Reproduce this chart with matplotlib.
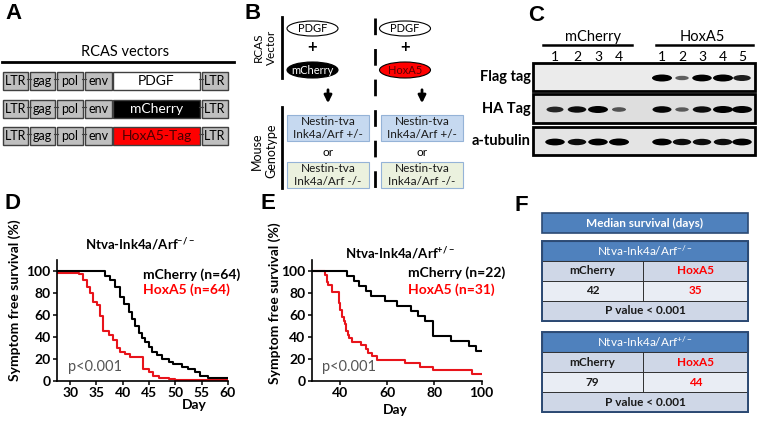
import matplotlib
matplotlib.use('Agg')
import matplotlib.pyplot as plt
from matplotlib.patches import Rectangle, Ellipse, FancyArrowPatch

plt.rcParams['font.family'] = ['Lato', 'DejaVu Sans']
plt.rcParams['mathtext.default'] = 'regular'

# =============================================================================
# DATA
# =============================================================================

# Panel A: RCAS vectors
backbone = ['LTR', 'gag', 'pol', 'env']
inserts = ['PDGF', 'mCherry', 'HoxA5-Tag']
insert_fill = ['white', 'black', '#ff0000']
insert_txt = ['black', 'white', '#4a0000']

# Panel B
vectors = ['mCherry', 'HoxA5']
vector_fill = ['black', '#ff0000']
vector_txt = ['white', '#5a0000']
genotypes = ['Nestin-tva\nInk4a/Arf +/-', 'Nestin-tva\nInk4a/Arf -/-']
genotype_fill = ['#c6d9f0', '#ebf1de']

# Panel C: western blot, band intensity per lane (0..1)
blot_rows = ['Flag tag', 'HA Tag', 'a-tubulin']
mcherry_lanes = ['1', '2', '3', '4']
hoxa5_lanes = ['1', '2', '3', '4', '5']
flag_band = [0, 0, 0, 0, 1.0, 0.35, 0.95, 1.0, 0.75]
ha_band = [0.7, 0.85, 1.0, 0.4, 0.9, 0.35, 0.85, 1.0, 1.0]
tub_band = [0.95, 0.85, 0.95, 1.0, 0.95, 0.85, 0.85, 0.85, 0.95]

# Panel D: Ntva-Ink4a/Arf -/-
d_days_m = [27.5, 36.6, 37.6, 38.5, 39.5, 40.2, 41.1, 41.7, 42.3, 43.0, 43.6, 44.2,
            44.9, 45.5, 46.5, 47.4, 48.7, 49.6, 51.2, 52.4, 53.7, 54.7, 56.2, 60]
d_surv_m = [100, 95.3, 92.2, 85.9, 76.6, 70.3, 62.5, 56.3, 50.0, 43.8, 39.1, 35.9,
            31.3, 26.6, 23.4, 20.3, 17.2, 15.6, 12.5, 10.9, 7.8, 4.7, 3.1, 3.1]
d_days_h = [27.5, 31.6, 32.5, 33.2, 33.8, 34.4, 35.1, 35.7, 36.3, 37.3, 38.2, 38.9,
            39.5, 40.4, 41.4, 43.9, 44.9, 45.8, 46.8, 48.7, 49.9, 60]
d_surv_h = [98.4, 96.9, 92.2, 85.9, 79.7, 71.9, 68.8, 59.4, 45.3, 42.2, 37.5, 29.7,
            26.6, 25.0, 21.9, 10.9, 7.8, 4.7, 3.1, 1.6, 0.8, 0.8]

# Panel E: Ntva-Ink4a/Arf +/-
e_days_m = [28, 43, 46, 48, 51, 53, 59, 64, 70, 73, 76, 79.5, 87, 94.5, 97.5, 100]
e_surv_m = [100, 95.5, 90.9, 86.4, 81.8, 77.3, 72.7, 68.2, 63.6, 59.1, 54.5, 40.9,
            36.4, 31.8, 27.3, 27.3]
e_days_h = [28, 33.5, 34.5, 35, 36.5, 39.5, 40, 40.7, 41.5, 42, 42.7, 43.5, 44, 45,
            49, 51, 52, 53.5, 55.5, 67.5, 74, 79.5, 96, 100]
e_surv_h = [100, 96.8, 90.3, 87.1, 80.6, 71.0, 64.5, 58.1, 54.8, 51.6, 45.2, 41.9,
            38.7, 35.5, 32.3, 29.0, 25.8, 22.6, 19.4, 16.1, 12.9, 9.7, 6.5, 6.5]

# Panel F: median survival table
geno_labels = ['Ntva-Ink4a/Arf$^{-/-}$', 'Ntva-Ink4a/Arf$^{+/-}$']
median_mcherry = [42, 79]
median_hoxa5 = [35, 44]
p_values = ['P value < 0.001', 'P value < 0.001']

# =============================================================================
# FIGURE
# =============================================================================

W, H = 766, 422
fig = plt.figure(figsize=(W / 100, H / 100), dpi=100)
ov = fig.add_axes([0, 0, 1, 1])
ov.set_xlim(0, W)
ov.set_ylim(H, 0)
ov.axis('off')

def letter(x, y, s):
    ov.text(x, y, s, fontsize=16, fontweight='bold', family='Liberation Sans',
            ha='left', va='top')

# ---- A ----------------------------------------------------------------------
letter(5, 3, 'A')
ov.text(125, 52, 'RCAS vectors', fontsize=10.5, ha='center', va='center')
ov.plot([2, 234], [62, 62], color='black', lw=2)
bb_x = [(3, 28), (30, 55), (57, 83), (85, 112)]
ins_x = (113, 200)
ltr2_x = (202, 228)
row_y = [72, 100, 127]
bh = 18
for r, ins in enumerate(inserts):
    y0 = row_y[r]
    for (x0, x1), name in zip(bb_x, backbone):
        ov.add_patch(Rectangle((x0, y0), x1 - x0, bh, fc='#bfbfbf', ec='#404040', lw=1))
        ov.text((x0 + x1) / 2, y0 + bh / 2, name, fontsize=9, ha='center', va='center')
    ov.add_patch(Rectangle((ins_x[0], y0), ins_x[1] - ins_x[0], bh, fc=insert_fill[r],
                           ec='#404040', lw=1))
    ov.text(sum(ins_x) / 2, y0 + bh / 2, ins, fontsize=10, ha='center', va='center',
            color=insert_txt[r])
    ov.add_patch(Rectangle((ltr2_x[0], y0), ltr2_x[1] - ltr2_x[0], bh, fc='#bfbfbf',
                           ec='#404040', lw=1))
    ov.text(sum(ltr2_x) / 2, y0 + bh / 2, 'LTR', fontsize=9, ha='center', va='center')
    for gx in [29, 56, 84, 201]:
        ov.plot([gx - 2, gx + 2], [y0 + bh / 2 - 2] * 2, color='#404040', lw=0.8)

# ---- B ----------------------------------------------------------------------
letter(244, 3, 'B')
ov.plot([281.5, 281.5], [17, 78], color='black', lw=2)
ov.plot([281.5, 281.5], [107, 188], color='black', lw=2)
ov.text(258, 47, 'RCAS', rotation=90, fontsize=8.5, ha='center', va='center')
ov.text(271, 47, 'Vector', rotation=90, fontsize=8.5, ha='center', va='center')
ov.text(257, 151, 'Mouse', rotation=90, fontsize=9, ha='center', va='center')
ov.text(271, 151, 'Genotype', rotation=90, fontsize=9, ha='center', va='center')
ov.plot([375, 375], [18, 190], color='black', lw=2, dashes=(6, 5))
ell_cx = [312.5, 405]
box_x = [287, 381]
for i, v in enumerate(vectors):
    cx = ell_cx[i]
    ov.add_patch(Ellipse((cx, 28.5), 51, 15, fc='white', ec='black', lw=0.8))
    ov.text(cx, 28.5, 'PDGF', fontsize=8, ha='center', va='center')
    ov.text(cx, 47, '+', fontsize=12, fontweight='bold', ha='center', va='center')
    ov.add_patch(Ellipse((cx, 70), 51, 16, fc=vector_fill[i], ec='black', lw=0.8))
    ov.text(cx, 70, v, fontsize=8, ha='center', va='center', color=vector_txt[i])
    bx = box_x[i]
    ov.add_patch(FancyArrowPatch((bx + 41, 87), (bx + 41, 106), arrowstyle='-|>',
                                 mutation_scale=11, color='black', lw=2))
    by = [115, 162]
    for j, g in enumerate(genotypes):
        ov.add_patch(Rectangle((bx, by[j]), 82, 26, fc=genotype_fill[j], ec='#95b3d7',
                               lw=0.8))
        ov.text(bx + 41, by[j] + 13, g, fontsize=8.5, ha='center', va='center',
                linespacing=1.25, color='#1a1a1a')
    ov.text(bx + 41, 152.5, 'or', fontsize=8.5, ha='center', va='center')

# ---- C ----------------------------------------------------------------------
letter(528, 5, 'C')
lane_x = [555, 577, 598, 619, 662, 682, 702, 723, 742]
ov.text(593, 37, 'mCherry', fontsize=10.5, ha='center', va='center')
ov.plot([543, 632], [45, 45], color='black', lw=1.8)
ov.text(702, 37, 'HoxA5', fontsize=10.5, ha='center', va='center')
ov.plot([656, 753], [45, 45], color='black', lw=1.8)
for x, s in zip(lane_x, mcherry_lanes + hoxa5_lanes):
    ov.text(x, 57, s, fontsize=10, ha='center', va='center')
blot_y = [(63, 91), (94, 123), (127, 155)]
blot_bg = ['#ebebeb', '#dedede', '#e4e4e4']
bands = [flag_band, ha_band, tub_band]
for (y0, y1), name, inten, bg in zip(blot_y, blot_rows, bands, blot_bg):
    ov.add_patch(Rectangle((533, y0), 222, y1 - y0, fc=bg, ec='black', lw=2))
    ov.text(531, (y0 + y1) / 2, name, fontsize=10.5, fontweight='bold', ha='right',
            va='center')
    yc = (y0 + y1) / 2 + 1
    for x, a in zip(lane_x, inten):
        if a <= 0:
            continue
        ov.add_patch(Ellipse((x, yc), 10 + 10 * a, 3 + 4 * a, fc='black', ec='none',
                             alpha=min(1, 0.35 + 0.7 * a)))

# ---- D and E ----------------------------------------------------------------
def km_axes(rect, dm, sm, dh, sh, xlim, xticks):
    ax = fig.add_axes(rect)
    ax.step(dm, sm, where='post', color='black', lw=1.5, zorder=3)
    ax.step(dh, sh, where='post', color='#e8141b', lw=1.5, zorder=2)
    ax.set_xlim(*xlim)
    ax.set_ylim(0, 110)
    ax.set_xticks(xticks)
    ax.set_yticks(range(0, 101, 20))
    for sp in ['top', 'right']:
        ax.spines[sp].set_visible(False)
    for sp in ['left', 'bottom']:
        ax.spines[sp].set_linewidth(1.2)
    ax.tick_params(labelsize=10, width=1.1, length=3, pad=1.5)
    for lab in ax.get_xticklabels() + ax.get_yticklabels():
        lab.set_fontweight('bold')
    ax.patch.set_alpha(0)
    return ax

axd = km_axes([57 / W, 1 - 381 / H, 171 / W, 121 / H], d_days_m, d_surv_m,
              d_days_h, d_surv_h, (27.5, 60), range(30, 61, 5))
axe = km_axes([311.7 / W, 1 - 381 / H, 170 / W, 121 / H], e_days_m, e_surv_m,
              e_days_h, e_surv_h, (28, 100), [40, 60, 80, 100])

letter(4, 193, 'D')
ov.text(140, 244, 'Ntva-Ink4a/Arf$^{-/-}$', fontsize=9.5, fontweight='bold',
        ha='center', va='center')
ov.text(143, 275, 'mCherry (n=64)', fontsize=10, fontweight='bold', ha='left',
        va='center')
ov.text(143, 290, 'HoxA5 (n=64)', fontsize=10, fontweight='bold', ha='left',
        va='center', color='#ff0000')
ov.text(68, 367, 'p<0.001', fontsize=10.5, ha='left', va='center', color='#555555')
ov.text(15, 300, 'Symptom free survival (%)', fontsize=10, fontweight='bold',
        rotation=90, ha='center', va='center')
ov.text(194, 405, 'Day', fontsize=10, fontweight='bold', ha='center', va='center')

letter(260, 193, 'E')
ov.text(400, 253, 'Ntva-Ink4a/Arf$^{+/-}$', fontsize=9.5, fontweight='bold',
        ha='center', va='center')
ov.text(408, 273, 'mCherry (n=22)', fontsize=10, fontweight='bold', ha='left',
        va='center')
ov.text(408, 290, 'HoxA5 (n=31)', fontsize=10, fontweight='bold', ha='left',
        va='center', color='#ff0000')
ov.text(322, 367, 'p<0.001', fontsize=10.5, ha='left', va='center', color='#555555')
ov.text(275, 303, 'Symptom free survival (%)', fontsize=10, fontweight='bold',
        rotation=90, ha='center', va='center')
ov.text(395, 410, 'Day', fontsize=10, fontweight='bold', ha='center', va='center')

# ---- F ----------------------------------------------------------------------
letter(514, 195, 'F')
tx0, tx1, tmid = 542, 748, 643
blue, dark = '#4f81bd', '#2c4a74'
ov.add_patch(Rectangle((tx0, 213), tx1 - tx0, 20, fc=blue, ec=dark, lw=1.2))
ov.text((tx0 + tx1) / 2, 223, 'Median survival (days)', fontsize=8.5, fontweight='bold',
        color='white', ha='center', va='center')
block_top = [241, 332]
rh = 20
for b in range(2):
    y0 = block_top[b]
    ov.add_patch(Rectangle((tx0, y0), tx1 - tx0, rh, fc=blue, ec=dark, lw=0.8))
    ov.text((tx0 + tx1) / 2, y0 + rh / 2, geno_labels[b], fontsize=8.5, color='white',
            ha='center', va='center')
    fills = ['#cfd7e7', '#e9edf4', '#cfd7e7']
    for r in range(3):
        yr = y0 + rh * (r + 1)
        if r < 2:
            ov.add_patch(Rectangle((tx0, yr), tmid - tx0, rh, fc=fills[r], ec='#222222',
                                   lw=0.6))
            ov.add_patch(Rectangle((tmid, yr), tx1 - tmid, rh, fc=fills[r], ec='#222222',
                                   lw=0.6))
        else:
            ov.add_patch(Rectangle((tx0, yr), tx1 - tx0, rh, fc=fills[r], ec='#222222',
                                   lw=0.6))
    ov.text((tx0 + tmid) / 2, y0 + rh * 1.5, 'mCherry', fontsize=8.5, fontweight='bold',
            ha='center', va='center', color='#1a1a1a')
    ov.text((tmid + tx1) / 2, y0 + rh * 1.5, 'HoxA5', fontsize=8.5, fontweight='bold',
            ha='center', va='center', color='#ff0000')
    ov.text((tx0 + tmid) / 2, y0 + rh * 2.5, str(median_mcherry[b]), fontsize=8.5,
            fontweight='bold', ha='center', va='center', color='#1a1a1a')
    ov.text((tmid + tx1) / 2, y0 + rh * 2.5, str(median_hoxa5[b]), fontsize=8.5,
            fontweight='bold', ha='center', va='center', color='#ff0000')
    ov.text((tx0 + tx1) / 2, y0 + rh * 3.5, p_values[b], fontsize=8.5, fontweight='bold',
            ha='center', va='center', color='#1a1a1a')
    ov.add_patch(Rectangle((tx0, y0), tx1 - tx0, rh * 4, fc='none', ec=dark, lw=1.4))

fig.savefig('out.png', dpi=100)
